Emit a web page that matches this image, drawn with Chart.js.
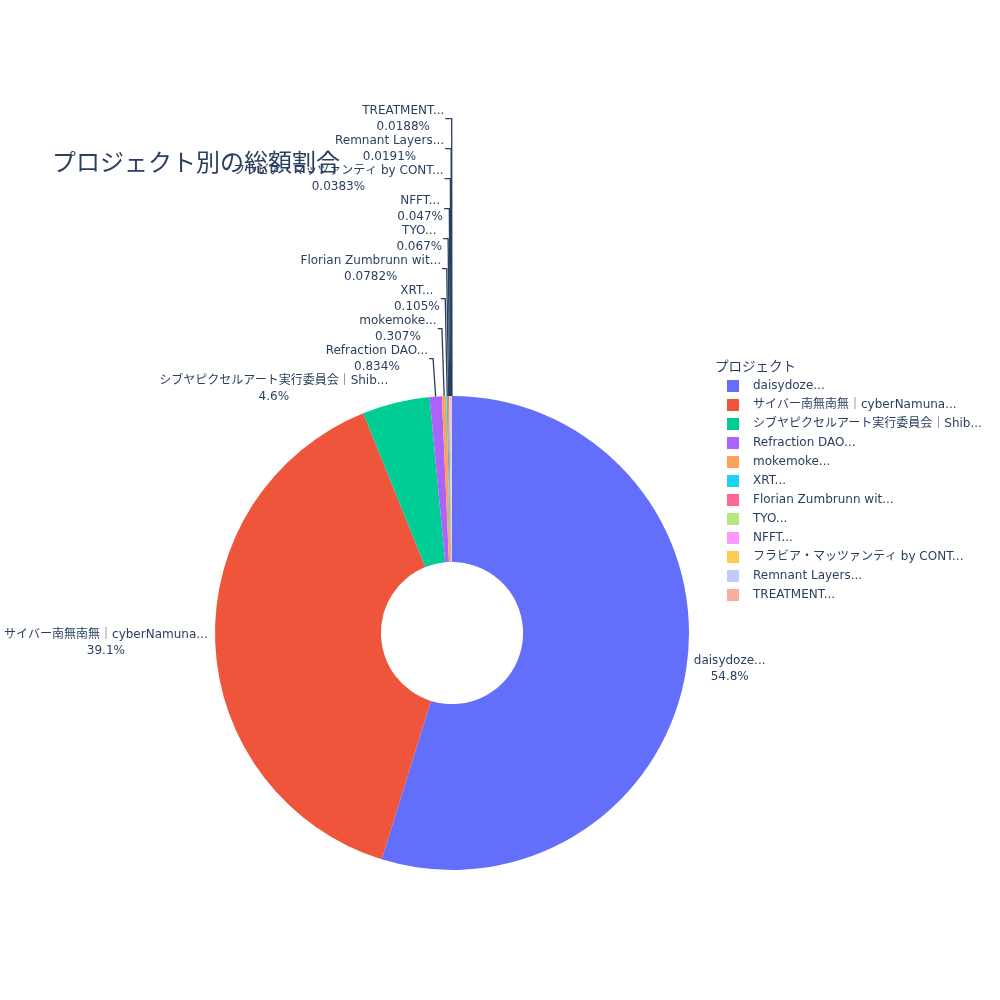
<!DOCTYPE html>
<html>
<head>
<meta charset="utf-8">
<script src="https://cdn.jsdelivr.net/npm/chart.js@4.4.0/dist/chart.umd.min.js"></script>
<style>
  body { margin: 0; background: #fff; }
  #wrap { width: 1000px; height: 1000px; }
</style>
</head>
<body>
<div id="wrap"><canvas id="myChart" width="1000" height="1000"></canvas></div>
<script>
// data
const projects = [
  'daisydoze...',
  'サイバー南無南無｜cyberNamuna...',
  'シブヤピクセルアート実行委員会｜Shib...',
  'Refraction DAO...',
  'mokemoke...',
  'XRT...',
  'Florian Zumbrunn wit...',
  'TYO...',
  'NFFT...',
  'フラビア・マッツァンティ by CONT...',
  'Remnant Layers...',
  'TREATMENT...'
];
const shares = [54.8, 39.1, 4.6, 0.834, 0.307, 0.105, 0.0782, 0.067, 0.047, 0.0383, 0.0191, 0.0188];
const colors = ['#636efa', '#ef553b', '#00cc96', '#ab63fa', '#ffa15a', '#19d3f3',
  '#ff6692', '#b6e880', '#ff97ff', '#fecb52', '#c6c9fd', '#f8ab9e'];
const chartTitle = 'プロジェクト別の総額割合';
const legendTitle = 'プロジェクト';

const textColor = '#2a3f5f';
const fontFamily = '"DejaVu Sans", "Noto Sans CJK JP", sans-serif';

function formatPct(v) {
  return String(parseFloat(v.toPrecision(3))) + '%';
}

// push overlapping labels away from the horizontal middle
function stack(group, up) {
  let limit = null;
  group.forEach(function (it) {
    if (limit !== null) {
      if (up && it.y + it.h / 2 > limit) { it.y = limit - it.h / 2; it.moved = true; }
      if (!up && it.y - it.h / 2 < limit) { it.y = limit + it.h / 2; it.moved = true; }
    }
    limit = up ? it.y - it.h / 2 : it.y + it.h / 2;
  });
}

const outsideLabels = {
  id: 'outsideLabels',
  afterDatasetsDraw: function (chart) {
    const ctx = chart.ctx;
    const arcs = chart.getDatasetMeta(0).data;
    const values = chart.data.datasets[0].data;
    const total = values.reduce(function (a, b) { return a + b; }, 0);
    const lineH = 16;
    const boxH = 30;

    ctx.save();
    ctx.font = '12px ' + fontFamily;

    const items = arcs.map(function (arc, i) {
      const p = arc.getProps(['x', 'y', 'startAngle', 'endAngle', 'outerRadius'], true);
      const mid = (p.startAngle + p.endAngle) / 2;
      const px = Math.cos(mid) * p.outerRadius;
      const py = Math.sin(mid) * p.outerRadius;
      const lines = [chart.data.labels[i], formatPct(values[i] / total * 100)];
      const w = Math.max.apply(null, lines.map(function (t) { return ctx.measureText(t).width; }));
      let dx = w / 2;
      let dy = boxH / 2;
      if (px < 0) dx = -dx;
      if (py < 0) dy = -dy;
      const tx = dx + Math.abs(dy) * Math.sign(dx) / 2;
      const ty = dy / (1 + (px * px) / (py * py));
      return { i: i, cx: p.x, cy: p.y, px: px, py: py, w: w, h: boxH, lines: lines,
        x: p.x + px + tx, y: p.y + py + ty, moved: false };
    });

    stack(items.filter(function (it) { return it.px < 0 && it.py < 0; }), true);
    stack(items.filter(function (it) { return it.px >= 0 && it.py < 0; }).reverse(), true);
    stack(items.filter(function (it) { return it.px >= 0 && it.py >= 0; }), false);
    stack(items.filter(function (it) { return it.px < 0 && it.py >= 0; }).reverse(), false);

    ctx.strokeStyle = textColor;
    ctx.lineWidth = 1.3;
    items.forEach(function (it) {
      if (!it.moved) return;
      const sx = it.cx + it.px;
      const sy = it.cy + it.py;
      const yNet = it.y - sy;
      const xNet = yNet * it.px / it.py;
      const edge = it.px < 0 ? it.x + it.w / 2 + 1 : it.x - it.w / 2 - 1;
      ctx.beginPath();
      ctx.moveTo(sx, sy);
      ctx.lineTo(sx + xNet, it.y);
      ctx.lineTo(edge, it.y);
      ctx.stroke();
    });

    ctx.fillStyle = textColor;
    ctx.textAlign = 'center';
    ctx.textBaseline = 'middle';
    items.forEach(function (it) {
      ctx.fillText(it.lines[0], it.x, it.y - lineH / 2);
      ctx.fillText(it.lines[1], it.x, it.y + lineH / 2);
    });
    ctx.restore();
  }
};

const titleAndLegend = {
  id: 'titleAndLegend',
  beforeDraw: function (chart) {
    const ctx = chart.ctx;
    ctx.save();
    ctx.fillStyle = textColor;
    ctx.textBaseline = 'middle';
    ctx.font = '24px ' + fontFamily;
    ctx.fillText(chartTitle, 52, 165);
    ctx.restore();
  },
  afterDraw: function (chart) {
    const ctx = chart.ctx;
    const labels = chart.data.labels;
    const fills = chart.data.datasets[0].backgroundColor;
    ctx.save();
    ctx.fillStyle = textColor;
    ctx.textBaseline = 'middle';
    ctx.font = '13.5px ' + fontFamily;
    ctx.fillText(legendTitle, 715, 367);
    ctx.font = '12px ' + fontFamily;
    for (let i = 0; i < labels.length; i++) {
      const y = 386 + i * 19;
      ctx.fillStyle = fills[i];
      ctx.fillRect(727, y - 6, 12, 12);
      ctx.fillStyle = textColor;
      ctx.fillText(labels[i], 753, y);
    }
    ctx.restore();
  }
};

const app = {
  initChart: function () {
    const thisApp = this;

    thisApp.ctx = document.getElementById('myChart').getContext('2d');
    thisApp.chart = new Chart(thisApp.ctx, {
      type: 'doughnut',
      data: {
        labels: projects,
        datasets: [{
          data: shares,
          backgroundColor: colors,
          borderWidth: 0,
          hoverOffset: 0,
          offset: 0,
        }]
      },
      options: {
        responsive: false,
        animation: false,
        cutout: '30%',
        layout: {
          padding: { left: 215, right: 311, top: 396, bottom: 130 }
        },
        plugins: {
          legend: { display: false },
          tooltip: { enabled: false },
        },
      },
      plugins: [titleAndLegend, outsideLabels],
    });
  },
  init: function () {
    const thisApp = this;

    thisApp.initChart();
  },
};

app.init();
</script>
</body>
</html>
